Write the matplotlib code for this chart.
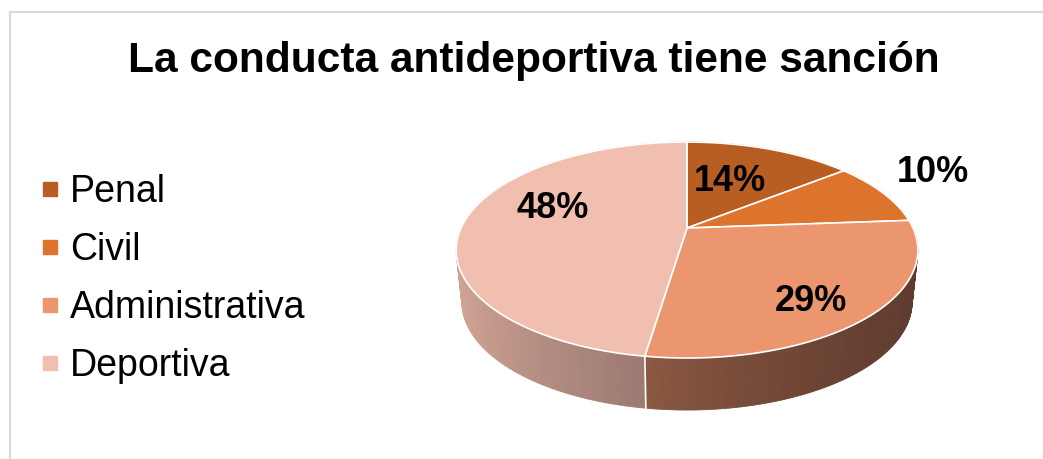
import numpy as np
import matplotlib.pyplot as plt
from matplotlib.lines import Line2D
from matplotlib.patches import Polygon

# survey answers (21 respondents)
categories = ["Penal", "Civil", "Administrativa", "Deportiva"]
counts = [3, 2, 6, 10]
title = "La conducta antideportiva tiene sanción"

top_colors = ["#b95e22", "#dc742e", "#ec9670", "#f0bfaf"]
side_left = ["#8a4519", "#a55722", "#8e5a43", "#d2a596"]
side_right = ["#5e3b2e", "#5e3b2e", "#5e3b2e", "#9c7a71"]

# label placement: radial factor and vertical nudge (px)
label_r = [0.48, 1.28, 0.72, 0.60]
label_dy = [-5, -11, 12, -15]

plt.rcParams["font.family"] = ["Liberation Sans", "DejaVu Sans"]

W, H = 1043, 459
fig = plt.figure(figsize=(W / 100, H / 100), dpi=100)
ax = fig.add_axes([0, 0, 1, 1])
ax.set_xlim(0, W)
ax.set_ylim(H, 0)
ax.axis("off")

# pie geometry in pixels (perspective disc)
cx, cy, a, b, p = 687, 228, 226, 103.5, 0.204
depth, shrink = 52, 0.975


def project(theta, r=1.0, drop=0.0, sx=1.0):
    u = r * np.sin(theta)
    v = -r * np.cos(theta)
    w = 1 - p * v
    return cx + sx * a * u / w, cy + b * v / w + drop


def mix(c1, c2, t):
    c1 = np.array(plt.matplotlib.colors.to_rgb(c1))
    c2 = np.array(plt.matplotlib.colors.to_rgb(c2))
    return tuple(c1 + (c2 - c1) * t)


frac = np.array(counts) / sum(counts)
edges = np.concatenate([[0], np.cumsum(frac)]) * 2 * np.pi

# side walls
quads = []
for i in range(len(counts)):
    th = np.linspace(edges[i], edges[i + 1], 120)
    xt, yt = project(th)
    xb, yb = project(th, drop=depth, sx=shrink)
    v = -np.cos(th)
    front = v > p * 0.5
    if front.any():
        x0, x1 = xt[front].min(), xt[front].max()
    else:
        x0, x1 = xt.min(), xt.max()
    for k in range(len(th) - 1):
        xm = (xt[k] + xt[k + 1]) / 2
        t = np.clip((xm - x0) / max(x1 - x0, 1), 0, 1) ** 0.75
        col = mix(side_left[i], side_right[i], t)
        pts = [(xt[k], yt[k]), (xt[k + 1], yt[k + 1]),
               (xb[k + 1], yb[k + 1]), (xb[k], yb[k])]
        quads.append(((v[k] + v[k + 1]) / 2, pts, col))

for _, pts, col in sorted(quads, key=lambda q: q[0]):
    ax.add_patch(Polygon(pts, closed=True, facecolor=col, edgecolor=col,
                         linewidth=0.6, zorder=2))

# white seam on the front side at wedge boundaries
for e in edges:
    if -np.cos(e) > p:
        x1, y1 = project(e)
        x2, y2 = project(e, drop=depth, sx=shrink)
        ax.plot([x1, x2], [y1, y2], color="white", lw=1.2, zorder=3)

# top face
for i in range(len(counts)):
    th = np.linspace(edges[i], edges[i + 1], 120)
    xt, yt = project(th)
    pts = [(cx, cy)] + list(zip(xt, yt))
    ax.add_patch(Polygon(pts, closed=True, facecolor=top_colors[i],
                         edgecolor="white", linewidth=1.2, zorder=4))

# data labels
for i in range(len(counts)):
    mid = (edges[i] + edges[i + 1]) / 2
    lx, ly = project(mid, r=label_r[i])
    ax.text(lx, ly + label_dy[i], f"{frac[i] * 100:.0f}%", ha="center",
            va="center", fontsize=26, fontweight="bold", color="black", zorder=6)

ax.text(534, 72, title, ha="center", va="baseline", fontsize=30.6,
        fontweight="bold", color="black")

# chart area border (top and left visible)
ax.plot([10, W], [12, 12], color="#d9d9d9", lw=1.5, zorder=1)
ax.plot([10, 10], [12, H], color="#d9d9d9", lw=1.5, zorder=1)

handles = [Line2D([], [], marker="s", linestyle="", markersize=10.5,
                  markerfacecolor=c, markeredgecolor=c) for c in top_colors]
fig.legend(handles, categories, loc="center left",
           bbox_to_anchor=(43 / W, 1 - 279 / H), frameon=False, fontsize=27,
           handlelength=0.38, handletextpad=0.33, labelspacing=0.58,
           borderpad=0, borderaxespad=0)

fig.savefig("out.png", dpi=100)
